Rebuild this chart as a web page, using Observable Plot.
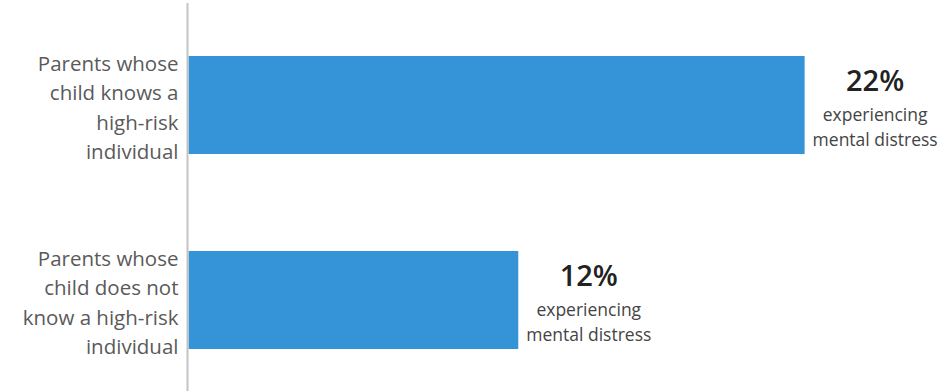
<!DOCTYPE html>
<html><head><meta charset="utf-8">
<script src="https://cdn.jsdelivr.net/npm/d3@7"></script>
<script src="https://cdn.jsdelivr.net/npm/@observablehq/plot@0.6"></script>
<style>
html,body{margin:0;padding:0;background:#fff;}
</style>
</head><body>
<div id="chart"></div>
<script>
const categories = ["knows", "doesnot"];
const categoryLabels = [
  "Parents whose\nchild knows a\nhigh-risk\nindividual",
  "Parents whose\nchild does not\nknow a high-risk\nindividual"
];
const values = [22, 11.8];
const valueLabels = ["22%", "12%"];
const noteLabel = "experiencing\nmental distress";

const data = categories.map((c, i) => ({cat: c, label: categoryLabels[i], value: values[i], vlabel: valueLabels[i], note: noteLabel}));

const chart = Plot.plot({
  width: 945,
  height: 391,
  marginLeft: 187,
  marginRight: 0,
  marginTop: 8,
  marginBottom: 0,
  style: {fontFamily: "'Open Sans', sans-serif", background: "#fff"},
  x: {domain: [0, 27], axis: null},
  y: {domain: categories, range: [13, 391], paddingInner: 0.5, paddingOuter: 0.219, axis: null},
  marks: [
    Plot.barX(data, {x: "value", y: "cat", fill: "#3594d8", insetLeft: 1.5}),
    Plot.ruleX([0], {stroke: "#c4c4c4", strokeWidth: 2, insetTop: -5}),
    Plot.text(data, {x: 0, y: "cat", text: "label", textAnchor: "end", dx: -9, fontSize: 20.5, lineHeight: 1.44, fill: "#5a5a5a"}),
    Plot.text(data, {x: "value", y: "cat", text: "vlabel", textAnchor: "middle", dx: 70, dy: -24, fontSize: 29, fill: "#222", fontWeight: 600}),
    Plot.text(data, {x: "value", y: "cat", text: "note", textAnchor: "middle", dx: 70, dy: 20, fontSize: 17.5, lineHeight: 1.43, fill: "#444"})
  ]
});
document.getElementById("chart").append(chart);
</script>
</body></html>
